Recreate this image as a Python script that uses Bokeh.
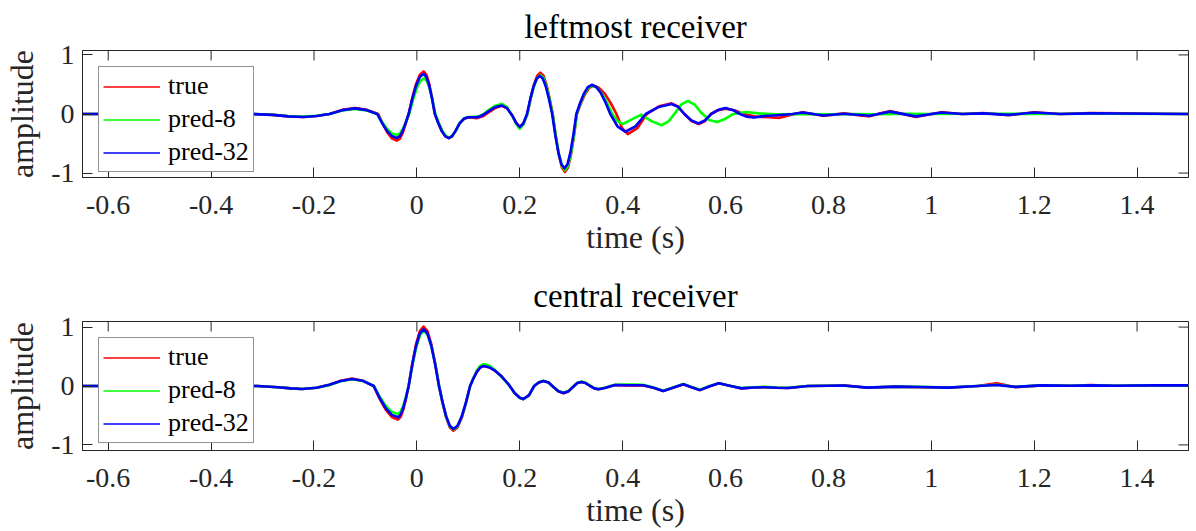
import math
from bokeh.plotting import figure
from bokeh.layouts import column
from bokeh.models import FixedTicker, Range1d, Legend, LegendItem
from bokeh.embed import file_html
from bokeh.resources import INLINE

FONT = "Liberation Serif"
TXT = "#262626"

x_ticks = [-0.6, -0.4, -0.2, 0, 0.2, 0.4, 0.6, 0.8, 1, 1.2, 1.4]
x_tick_labels = ["-0.6", "-0.4", "-0.2", "0", "0.2", "0.4", "0.6", "0.8", "1", "1.2", "1.4"]
y_ticks = [-1, 0, 1]
y_tick_labels = ["-1", "0", "1"]
series_names = ["true", "pred-8", "pred-32"]
series_colors = ["#ff0000", "#00ff00", "#0000ff"]
panel_titles = ["leftmost receiver", "central receiver"]
x_label = "time (s)"
y_label = "amplitude"
x_limits = (-0.65, 1.5)

# ---- leftmost receiver: (time s, amplitude) ----
left_true = [
    (-0.65, 0), (-0.40, 0), (-0.32, 0), (-0.28, -0.015), (-0.25, -0.04), (-0.22, -0.05),
    (-0.195, -0.035), (-0.17, 0), (-0.145, 0.07), (-0.12, 0.10), (-0.097, 0.07), (-0.075, 0),
    (-0.066, -0.172), (-0.057, -0.318), (-0.048, -0.416), (-0.039, -0.45), (-0.033, -0.416),
    (-0.0275, -0.318), (-0.022, -0.172), (-0.016, 0), (-0.0088, 0.276), (-0.0015, 0.509),
    (0.0058, 0.665), (0.013, 0.72), (0.0185, 0.665), (0.024, 0.509), (0.0295, 0.276), (0.035, 0),
    (0.0418, -0.157), (0.0485, -0.29), (0.0553, -0.379), (0.062, -0.41), (0.068, -0.38),
    (0.075, -0.29), (0.083, -0.16), (0.092, -0.08), (0.1, -0.06), (0.108, -0.062), (0.116, -0.07),
    (0.128, -0.04), (0.14, 0.03), (0.152, 0.10), (0.165, 0.14), (0.175, 0.10), (0.185, -0.02),
    (0.193, -0.15), (0.2, -0.22), (0.207, -0.16), (0.215, 0), (0.221, 0.268), (0.2275, 0.495),
    (0.234, 0.647), (0.24, 0.70), (0.246, 0.647), (0.252, 0.495), (0.258, 0.268), (0.264, 0),
    (0.27, -0.375), (0.276, -0.693), (0.282, -0.905), (0.288, -0.98), (0.2938, -0.905),
    (0.2995, -0.693), (0.3053, -0.375), (0.311, 0), (0.319, 0.184), (0.327, 0.34), (0.335, 0.443),
    (0.343, 0.48), (0.354, 0.443), (0.3655, 0.34), (0.377, 0.184), (0.388, 0), (0.399, -0.24),
    (0.41, -0.34), (0.4285, -0.24), (0.447, 0), (0.471, 0.13), (0.495, 0.18), (0.5075, 0.13),
    (0.52, 0), (0.534, -0.12), (0.548, -0.17), (0.56, -0.12), (0.572, 0), (0.586, 0.064),
    (0.6, 0.09), (0.617, 0.064), (0.635, 0), (0.66, -0.045), (0.685, -0.055), (0.705, -0.065),
    (0.73, -0.01), (0.75, 0.03), (0.77, 0), (0.79, -0.03), (0.81, -0.01), (0.83, 0.01),
    (0.855, -0.015), (0.88, -0.04), (0.90, 0.01), (0.92, 0.05), (0.945, 0), (0.97, -0.05),
    (0.995, -0.01), (1.02, 0.03), (1.06, 0), (1.1, 0.015), (1.125, 0), (1.15, -0.02),
    (1.175, 0.005), (1.2, 0.03), (1.25, 0), (1.31, 0.015), (1.37, 0.01), (1.43, 0.005), (1.5, 0),
]
left_pred8 = [
    (-0.65, 0), (-0.40, 0), (-0.32, 0), (-0.28, -0.012), (-0.25, -0.035), (-0.22, -0.045),
    (-0.195, -0.03), (-0.17, 0), (-0.145, 0.06), (-0.12, 0.085), (-0.097, 0.06), (-0.077, 0),
    (-0.0675, -0.136), (-0.058, -0.251), (-0.0485, -0.328), (-0.039, -0.355), (-0.033, -0.328),
    (-0.0275, -0.251), (-0.021, -0.136), (-0.015, 0), (-0.0078, 0.232), (-0.0005, 0.428),
    (0.0068, 0.559), (0.014, 0.605), (0.0195, 0.559), (0.025, 0.428), (0.0305, 0.232), (0.036, 0),
    (0.0428, -0.153), (0.0495, -0.283), (0.0563, -0.37), (0.063, -0.40), (0.069, -0.37),
    (0.076, -0.28), (0.084, -0.15), (0.092, -0.07), (0.1, -0.05), (0.11, -0.05), (0.12, -0.04),
    (0.13, 0), (0.14, 0.07), (0.152, 0.14), (0.165, 0.17), (0.175, 0.12), (0.185, -0.02),
    (0.193, -0.17), (0.2, -0.25), (0.207, -0.18), (0.215, 0), (0.221, 0.253), (0.2275, 0.467),
    (0.234, 0.61), (0.24, 0.66), (0.246, 0.61), (0.252, 0.467), (0.258, 0.253), (0.264, 0),
    (0.27, -0.364), (0.276, -0.672), (0.282, -0.878), (0.288, -0.95), (0.2938, -0.878),
    (0.2995, -0.672), (0.3053, -0.364), (0.311, 0), (0.318, 0.184), (0.3255, 0.34), (0.333, 0.443),
    (0.34, 0.48), (0.35, 0.443), (0.36, 0.34), (0.37, 0.184), (0.38, 0), (0.39, -0.12),
    (0.40, -0.17), (0.418, -0.09), (0.436, -0.01), (0.456, -0.12), (0.476, -0.19), (0.49, -0.12),
    (0.503, 0.03), (0.515, 0.167), (0.527, 0.22), (0.54, 0.16), (0.553, 0.02), (0.568, -0.10),
    (0.584, -0.135), (0.6, -0.08), (0.615, 0), (0.64, 0.035), (0.665, 0.01), (0.7, -0.005),
    (0.75, 0), (0.8, -0.005), (0.85, 0), (0.9, -0.005), (0.95, 0.005), (1.0, 0), (1.1, 0.005),
    (1.2, 0), (1.3, 0.005), (1.5, 0),
]
left_pred32 = [
    (-0.65, 0), (-0.40, 0), (-0.32, 0), (-0.28, -0.015), (-0.25, -0.04), (-0.22, -0.05),
    (-0.195, -0.035), (-0.17, 0), (-0.145, 0.065), (-0.12, 0.095), (-0.097, 0.065), (-0.077, 0),
    (-0.0675, -0.155), (-0.058, -0.286), (-0.0485, -0.374), (-0.039, -0.405), (-0.033, -0.374),
    (-0.0275, -0.286), (-0.022, -0.155), (-0.016, 0), (-0.0088, 0.26), (-0.0015, 0.48),
    (0.0058, 0.628), (0.013, 0.68), (0.0185, 0.628), (0.024, 0.48), (0.0295, 0.26), (0.035, 0),
    (0.0418, -0.157), (0.0485, -0.29), (0.0553, -0.379), (0.062, -0.41), (0.068, -0.38),
    (0.075, -0.29), (0.083, -0.16), (0.092, -0.075), (0.1, -0.055), (0.108, -0.055),
    (0.118, -0.055), (0.128, -0.02), (0.14, 0.05), (0.152, 0.115), (0.165, 0.145), (0.175, 0.10),
    (0.185, -0.02), (0.193, -0.15), (0.2, -0.22), (0.207, -0.16), (0.214, 0), (0.2203, 0.247),
    (0.2265, 0.456), (0.2328, 0.596), (0.239, 0.645), (0.245, 0.596), (0.251, 0.456),
    (0.257, 0.247), (0.263, 0), (0.269, -0.352), (0.275, -0.65), (0.281, -0.85), (0.287, -0.92),
    (0.2928, -0.85), (0.2985, -0.65), (0.3043, -0.352), (0.31, 0), (0.3175, 0.19), (0.325, 0.35),
    (0.3325, 0.457), (0.34, 0.495), (0.349, 0.457), (0.358, 0.35), (0.367, 0.19), (0.376, 0),
    (0.39, -0.21), (0.405, -0.30), (0.425, -0.21), (0.445, 0), (0.47, 0.12), (0.495, 0.17),
    (0.508, 0.12), (0.52, 0), (0.534, -0.11), (0.547, -0.16), (0.56, -0.11), (0.572, 0),
    (0.586, 0.07), (0.6, 0.10), (0.615, 0.065), (0.628, 0), (0.642, -0.045), (0.655, -0.06),
    (0.675, -0.035), (0.7, -0.02), (0.73, 0), (0.75, 0.025), (0.77, 0), (0.79, -0.025),
    (0.83, 0.005), (0.88, -0.03), (0.92, 0.04), (0.97, -0.04), (1.02, 0.025), (1.06, 0),
    (1.1, 0.01), (1.15, -0.015), (1.2, 0.025), (1.25, 0), (1.31, 0.01), (1.37, 0.008), (1.5, 0),
]

# ---- central receiver ----
central_true = [
    (-0.65, 0), (-0.40, 0), (-0.31, 0), (-0.27, -0.02), (-0.245, -0.04), (-0.223, -0.05),
    (-0.195, -0.03), (-0.17, 0.02), (-0.148, 0.09), (-0.126, 0.125), (-0.105, 0.09), (-0.084, 0),
    (-0.0723, -0.218), (-0.0605, -0.403), (-0.0488, -0.527), (-0.037, -0.57), (-0.0318, -0.527),
    (-0.0265, -0.403), (-0.0213, -0.218), (-0.016, 0), (-0.0088, 0.387), (-0.0015, 0.714),
    (0.0058, 0.933), (0.013, 1.01), (0.0205, 0.933), (0.028, 0.714), (0.0355, 0.387), (0.043, 0),
    (0.05, -0.291), (0.057, -0.537), (0.064, -0.702), (0.071, -0.76), (0.0791, -0.702),
    (0.0873, -0.537), (0.0954, -0.291), (0.1035, 0), (0.11, 0.13), (0.1165, 0.24), (0.123, 0.314),
    (0.1295, 0.34), (0.14, 0.32), (0.152, 0.26), (0.165, 0.16), (0.178, 0.03), (0.19, -0.12),
    (0.2, -0.2), (0.207, -0.225), (0.218, -0.16), (0.228, 0), (0.237, 0.06), (0.246, 0.085),
    (0.256, 0.06), (0.266, -0.02), (0.275, -0.09), (0.285, -0.125), (0.295, -0.09), (0.303, -0.02),
    (0.312, 0.05), (0.32, 0.07), (0.328, 0.05), (0.337, 0), (0.345, -0.04), (0.353, -0.055),
    (0.365, -0.035), (0.385, 0.015), (0.41, 0.01), (0.44, 0.01), (0.46, -0.03), (0.479, -0.085),
    (0.498, -0.03), (0.518, 0.03), (0.534, -0.02), (0.55, -0.07), (0.568, -0.01), (0.587, 0.045),
    (0.61, 0), (0.631, -0.04), (0.655, -0.025), (0.677, -0.02), (0.7, -0.03), (0.722, -0.035),
    (0.76, 0), (0.8, 0.005), (0.83, 0.01), (0.876, -0.03), (0.93, -0.01), (0.98, -0.02),
    (1.033, -0.03), (1.09, 0), (1.127, 0.045), (1.164, -0.02), (1.214, 0.01), (1.27, 0.005),
    (1.31, 0.015), (1.36, 0.005), (1.43, 0.01), (1.5, 0.01),
]
central_pred8 = [
    (-0.65, 0), (-0.40, 0), (-0.31, 0), (-0.27, -0.02), (-0.245, -0.04), (-0.223, -0.05),
    (-0.195, -0.03), (-0.17, 0.015), (-0.148, 0.08), (-0.126, 0.115), (-0.105, 0.085), (-0.083, 0),
    (-0.0723, -0.182), (-0.0605, -0.336), (-0.0488, -0.439), (-0.037, -0.475), (-0.0318, -0.439),
    (-0.0265, -0.336), (-0.0213, -0.182), (-0.016, 0), (-0.0085, 0.36), (-0.001, 0.665),
    (0.0065, 0.868), (0.014, 0.94), (0.021, 0.868), (0.0285, 0.665), (0.036, 0.36), (0.0435, 0),
    (0.05, -0.283), (0.057, -0.523), (0.064, -0.684), (0.071, -0.74), (0.0791, -0.684),
    (0.0873, -0.523), (0.0954, -0.283), (0.1035, 0), (0.11, 0.14), (0.1165, 0.26), (0.123, 0.34),
    (0.13, 0.37), (0.14, 0.35), (0.152, 0.27), (0.165, 0.15), (0.178, 0.03), (0.19, -0.12),
    (0.2, -0.2), (0.207, -0.225), (0.218, -0.16), (0.228, 0), (0.237, 0.065), (0.246, 0.09),
    (0.256, 0.06), (0.266, -0.02), (0.275, -0.085), (0.285, -0.115), (0.295, -0.085),
    (0.303, -0.015), (0.312, 0.055), (0.32, 0.075), (0.328, 0.055), (0.337, 0.005), (0.345, -0.035),
    (0.353, -0.05), (0.365, -0.03), (0.385, 0.02), (0.41, 0.025), (0.44, 0.02), (0.46, -0.025),
    (0.479, -0.08), (0.498, -0.025), (0.518, 0.035), (0.534, -0.015), (0.55, -0.065),
    (0.568, -0.005), (0.587, 0.045), (0.61, 0), (0.631, -0.035), (0.655, -0.02), (0.677, -0.015),
    (0.7, -0.025), (0.722, -0.03), (0.76, 0), (0.8, 0.005), (0.83, 0.005), (0.876, -0.025),
    (0.93, -0.01), (0.98, -0.015), (1.033, -0.025), (1.09, 0), (1.127, 0.02), (1.164, -0.015),
    (1.214, 0.01), (1.27, 0.005), (1.31, 0.01), (1.36, 0.005), (1.43, 0.01), (1.5, 0.01),
]
central_pred32 = [
    (-0.65, 0), (-0.40, 0), (-0.31, 0), (-0.27, -0.02), (-0.245, -0.04), (-0.223, -0.05),
    (-0.195, -0.03), (-0.17, 0.02), (-0.148, 0.085), (-0.126, 0.12), (-0.105, 0.088), (-0.084, 0),
    (-0.0723, -0.203), (-0.0605, -0.375), (-0.0488, -0.49), (-0.037, -0.53), (-0.0318, -0.49),
    (-0.0265, -0.375), (-0.0213, -0.203), (-0.016, 0), (-0.0088, 0.37), (-0.0015, 0.683),
    (0.0058, 0.892), (0.013, 0.966), (0.0205, 0.892), (0.028, 0.683), (0.0355, 0.37), (0.043, 0),
    (0.05, -0.279), (0.057, -0.516), (0.064, -0.674), (0.071, -0.73), (0.0791, -0.674),
    (0.0873, -0.516), (0.0954, -0.279), (0.1035, 0), (0.11, 0.13), (0.1165, 0.24), (0.123, 0.314),
    (0.1295, 0.34), (0.14, 0.32), (0.152, 0.26), (0.165, 0.16), (0.178, 0.03), (0.19, -0.12),
    (0.2, -0.2), (0.207, -0.22), (0.218, -0.155), (0.228, 0), (0.237, 0.06), (0.246, 0.085),
    (0.256, 0.06), (0.266, -0.02), (0.275, -0.088), (0.285, -0.12), (0.295, -0.088), (0.303, -0.02),
    (0.312, 0.05), (0.32, 0.07), (0.328, 0.05), (0.337, 0), (0.345, -0.04), (0.353, -0.055),
    (0.365, -0.035), (0.385, 0.015), (0.41, 0.012), (0.44, 0.012), (0.46, -0.03), (0.479, -0.085),
    (0.498, -0.03), (0.518, 0.03), (0.534, -0.02), (0.55, -0.07), (0.568, -0.01), (0.587, 0.045),
    (0.61, 0), (0.631, -0.04), (0.655, -0.025), (0.677, -0.02), (0.7, -0.03), (0.722, -0.033),
    (0.76, 0), (0.8, 0.005), (0.83, 0.008), (0.876, -0.028), (0.93, -0.01), (0.98, -0.018),
    (1.033, -0.028), (1.09, 0), (1.127, 0.017), (1.164, -0.015), (1.214, 0.01), (1.27, 0.005),
    (1.31, 0.01), (1.36, 0.005), (1.43, 0.01), (1.5, 0.01),
]


def make_panel(title, series, y_lim, border_top, frame_h, border_bottom, title_standoff):
    p = figure(width=1196, height=border_top + frame_h + border_bottom,
               x_range=Range1d(*x_limits), y_range=Range1d(-y_lim, y_lim),
               output_backend="svg", toolbar_location=None,
               min_border_left=82, min_border_right=8,
               min_border_top=border_top, min_border_bottom=border_bottom,
               background_fill_color="white", border_fill_color="white")
    p.grid.visible = False
    p.outline_line_color = TXT
    p.outline_line_width = 1

    p.title.text = title
    p.title.align = "center"
    p.title.vertical_align = "bottom"
    p.title.standoff = title_standoff
    p.title.text_font = FONT
    p.title.text_font_size = "33px"
    p.title.text_font_style = "normal"
    p.title.text_color = "#000000"

    for ax in (p.xaxis[0], p.yaxis[0]):
        ax.major_tick_in = 10
        ax.major_tick_out = 0
        ax.minor_tick_line_color = None
        ax.axis_line_color = TXT
        ax.major_tick_line_color = TXT
        ax.major_label_text_font = FONT
        ax.major_label_text_font_size = "28px"
        ax.major_label_text_color = TXT
        ax.axis_label_text_font = FONT
        ax.axis_label_text_font_size = "32px"
        ax.axis_label_text_font_style = "normal"
        ax.axis_label_text_color = TXT

    xa = p.xaxis[0]
    xa.ticker = FixedTicker(ticks=x_ticks)
    xa.major_label_overrides = dict(zip(x_ticks, x_tick_labels))
    xa.axis_label = x_label
    xa.major_label_standoff = 18
    xa.axis_label_standoff = 2

    ya = p.yaxis[0]
    ya.ticker = FixedTicker(ticks=y_ticks)
    ya.major_label_overrides = dict(zip(y_ticks, y_tick_labels))
    ya.axis_label = y_label
    ya.major_label_standoff = 8
    ya.axis_label_standoff = 8

    # mirrored inward ticks on the top and right edges of the box (10 px long)
    p.ray(x=x_ticks, y=[y_lim] * len(x_ticks), length=10, length_units="screen",
          angle=-math.pi / 2, line_color=TXT, line_width=1)
    p.ray(x=[x_limits[1]] * len(y_ticks), y=y_ticks, length=10, length_units="screen",
          angle=math.pi, line_color=TXT, line_width=1)

    proxies = []
    for (color, pts) in zip(series_colors, series):
        t = [q[0] for q in pts]
        a = [q[1] for q in pts]
        proxies.append(p.line(t, a, line_color=color, line_width=1.5))
    for (color, pts) in zip(series_colors, series):
        t = [q[0] for q in pts]
        a = [q[1] for q in pts]
        p.line(t, a, line_color=color, line_width=2.6, line_join="round")
    items = [LegendItem(label=name, renderers=[r]) for name, r in zip(series_names, proxies)]

    leg = Legend(items=items, location="top_left")
    leg.margin = 16
    leg.padding = 4
    leg.spacing = 3
    leg.glyph_width = 57
    leg.glyph_height = 27
    leg.label_height = 27
    leg.label_standoff = 8
    leg.label_text_font = FONT
    leg.label_text_font_size = "26px"
    leg.label_text_color = "#000000"
    leg.border_line_color = TXT
    leg.border_line_width = 1
    leg.background_fill_color = "white"
    leg.background_fill_alpha = 1.0
    p.add_layout(leg)
    return p


p1 = make_panel(panel_titles[0], [left_true, left_pred8, left_pred32], 1.075, 49, 128, 88, 12)
p2 = make_panel(panel_titles[1], [central_true, central_pred8, central_pred32], 1.095, 56, 129, 81, 15)

layout = column(p1, p2, spacing=0)
open("out.html", "w").write(file_html(layout, INLINE))
